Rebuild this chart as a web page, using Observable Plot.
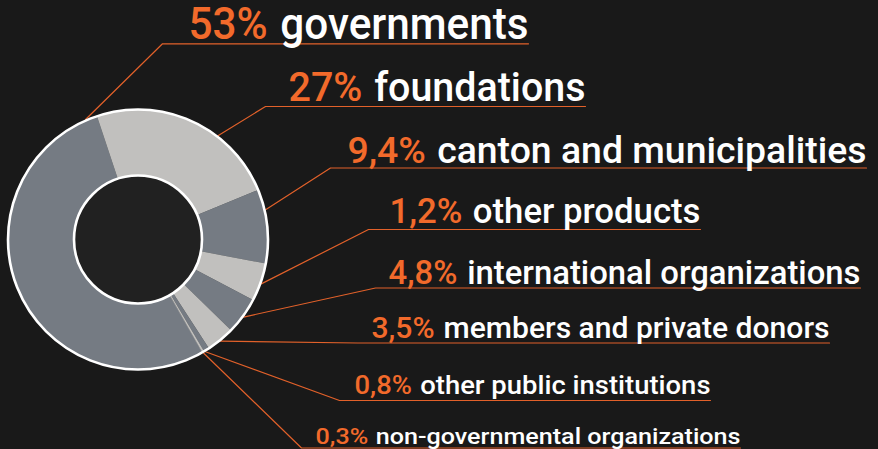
<!DOCTYPE html>
<html>
<head>
<meta charset="utf-8">
<script src="https://cdn.jsdelivr.net/npm/d3@7"></script>
<script src="https://cdn.jsdelivr.net/npm/@observablehq/plot@0.6"></script>
<style>
  html, body { margin: 0; padding: 0; background: #191919; }
  #chart svg { display: block; }
</style>
</head>
<body>
<div id="chart"></div>
<script>
// ---- data ----
const categories = ["governments", "foundations", "canton and municipalities", "other products",
  "international organizations", "members and private donors", "other public institutions",
  "non-governmental organizations"];
// printed labels
const percentLabels = ["53%", "27%", "9,4%", "1,2%", "4,8%", "3,5%", "0,8%", "0,3%"];
// slice sizes as drawn in the picture (share of the ring)
const sliceShares = [53.2, 23.9, 9.2, 4.75, 4.6, 3.5, 0.7, 0.25];
const sliceTones = ["#757b83", "#c1c0be", "#757b83", "#c1c0be", "#757b83", "#c1c0be", "#757b83", "#c1c0be"];

// ---- layout ----
const W = 878, H = 449;
const cx = 137.5, cy = 239, R = 130, R0 = 64;
const startDeg = 150.3;            // where the first slice begins (clockwise from top)
const leaderDeg = [-23.6, 37.6, 76.9, 109.8, 126.3, 140.9, 149, 150];
const baseY = [38.5, 100.5, 162, 222, 283, 337.5, 393, 443];
const fontPx = [43.5, 40, 37, 35, 33, 29, 25.5, 22.5];
const textLeft = [188, 288, 347, 389, 388, 371, 354, 315];
const textRight = [528, 585, 866, 700, 860, 829, 710, 740];
const ruleY = [43.3, 106, 167.5, 229, 287.5, 342.5, 400, 447.5];
const ruleLeft = [162, 265, 330, 368, 375, 357, 339, 301];

const ORANGE = "#f26a2b";
const LINE = "#e2612a";

// ---- slices via d3.pie ----
const rad = d => d * Math.PI / 180;
const pie = d3.pie().sort(null).value(d => d.v)
  .startAngle(rad(startDeg)).endAngle(rad(startDeg + 360));
const arcs = pie(categories.map((c, i) => ({c, v: sliceShares[i], tone: sliceTones[i]})));
const pt = (a, r) => ({x: cx + r * Math.sin(a), y: cy - r * Math.cos(a)});
const slicePts = [];
arcs.forEach((a, i) => {
  const n = Math.max(2, Math.ceil((a.endAngle - a.startAngle) / 0.01));
  for (let k = 0; k <= n; k++) {
    const t = a.startAngle + (a.endAngle - a.startAngle) * k / n;
    slicePts.push({...pt(t, R), s: i, tone: a.data.tone});
  }
  for (let k = n; k >= 0; k--) {
    const t = a.startAngle + (a.endAngle - a.startAngle) * k / n;
    slicePts.push({...pt(t, R0), s: i, tone: a.data.tone});
  }
});

// ---- leaders ----
const leaderPts = [];
categories.forEach((c, i) => {
  const p = pt(rad(leaderDeg[i]), R + 1);
  leaderPts.push({x: p.x, y: p.y, s: i});
  leaderPts.push({x: ruleLeft[i], y: ruleY[i], s: i});
  leaderPts.push({x: textRight[i], y: ruleY[i], s: i});
});

const labels = categories.map((c, i) => ({
  name: c, pct: percentLabels[i], y: baseY[i], fs: fontPx[i], xl: textLeft[i], xr: textRight[i]
}));

const chart = Plot.plot({
  width: W, height: H, margin: 0,
  x: {domain: [0, W], range: [0, W], axis: null},
  y: {domain: [0, H], range: [0, H], axis: null},
  color: {type: "identity"},
  style: {background: "#191919", fontFamily: "Roboto, 'Noto Sans', sans-serif"},
  marks: [
    Plot.line(leaderPts, {x: "x", y: "y", z: "s", stroke: LINE, strokeWidth: 1.2, curve: "linear"}),
    Plot.line(slicePts, {x: "x", y: "y", z: "s", fill: "tone", stroke: "tone", strokeWidth: 0.4, curve: "linear"}),
    Plot.dot([{x: cx, y: cy}], {x: "x", y: "y", r: R, fill: "none", stroke: "white", strokeWidth: 2.6}),
    Plot.dot([{x: cx, y: cy}], {x: "x", y: "y", r: R0, fill: "#212121", stroke: "white", strokeWidth: 2.6}),
    Plot.text(labels, {x: "xl", y: "y", text: "pct", fontSize: "fs", textAnchor: "start", lineAnchor: "bottom",
      fill: ORANGE, fontWeight: 500, className: "pct"}),
    Plot.text(labels, {x: "xr", y: "y", text: "name", fontSize: "fs", textAnchor: "end", lineAnchor: "bottom",
      fill: "#ffffff", fontWeight: 500, className: "nm"})
  ]
});
document.getElementById("chart").appendChild(chart);

// fit each label to its measured span
const pctEls = chart.querySelectorAll("g.pct text");
const nmEls = chart.querySelectorAll("g.nm text");
labels.forEach((d, i) => {
  const p = pctEls[i], n = nmEls[i];
  if (!p || !n) return;
  const pw = p.getComputedTextLength(), nw = n.getComputedTextLength();
  const gap = d.fs * 0.3;
  const k = (d.xr - d.xl) / (pw + gap + nw);
  p.setAttribute("textLength", pw * k);
  p.setAttribute("lengthAdjust", "spacingAndGlyphs");
  n.setAttribute("textLength", nw * k);
  n.setAttribute("lengthAdjust", "spacingAndGlyphs");
});
</script>
</body>
</html>
